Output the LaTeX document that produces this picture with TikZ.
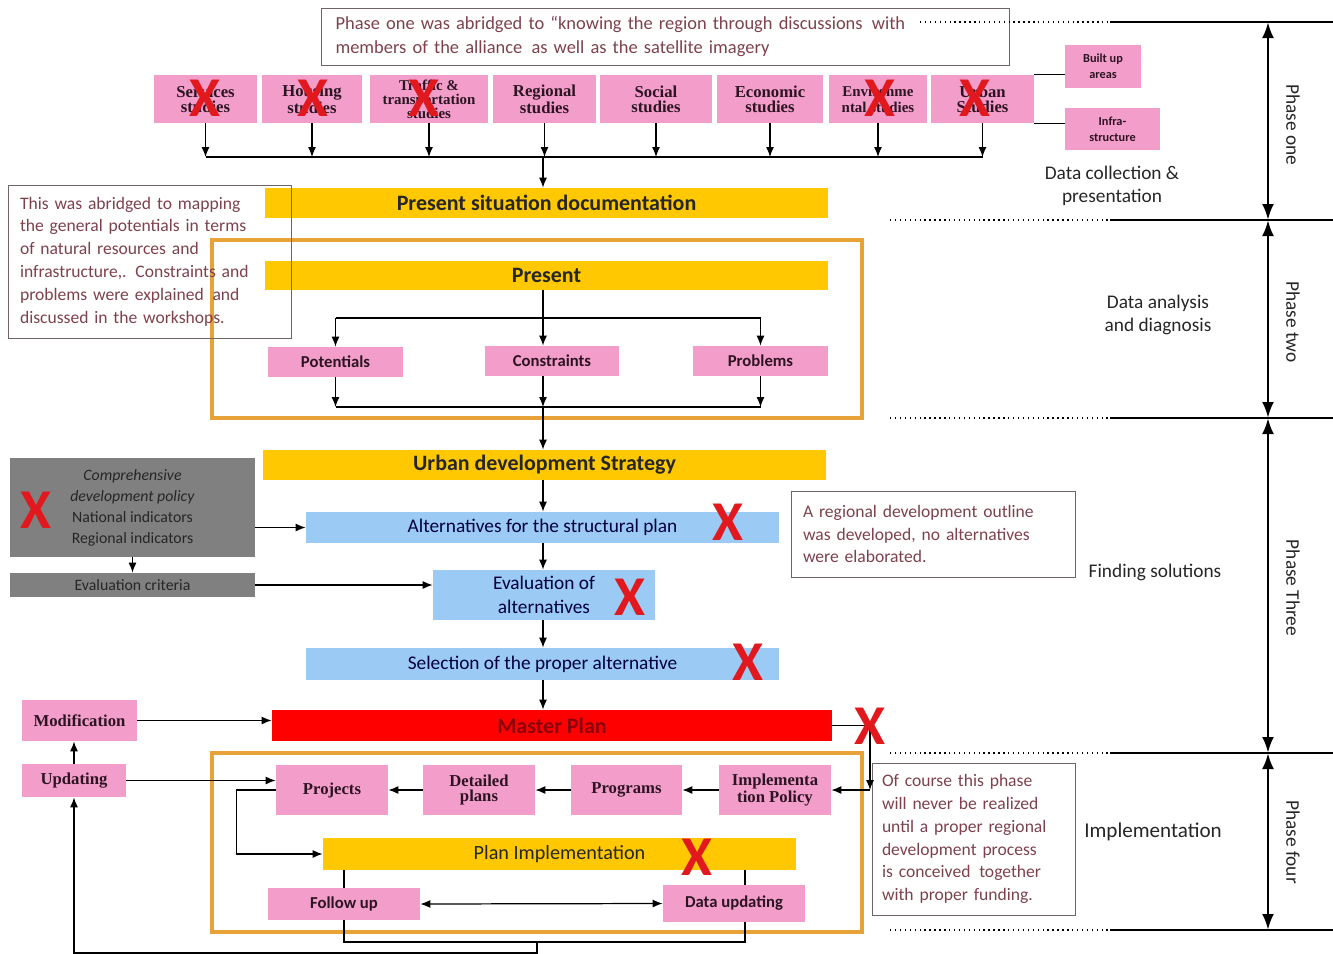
\documentclass[tikz,border=0pt]{standalone}
\usepackage{fontspec}
\setmainfont{Carlito}
\newfontfamily\serifbf{Liberation Serif}
\usetikzlibrary{arrows.meta}
\usetikzlibrary{positioning,calc}
\definecolor{studypink}{RGB}{243,158,202}
\definecolor{baryellow}{RGB}{255,200,0}
\definecolor{barblue}{RGB}{155,203,244}
\definecolor{frameorange}{RGB}{231,163,55}
\definecolor{policygray}{RGB}{128,128,128}
\definecolor{notegray}{RGB}{110,100,100}
\definecolor{notetext}{RGB}{125,65,78}
\definecolor{crossred}{RGB}{225,25,30}
\definecolor{mastertext}{RGB}{140,0,10}
\definecolor{inktext}{RGB}{45,20,35}
\tikzset{
    boxsize/.style 2 args={minimum width=#1*0.02cm, minimum height=#2*0.02cm},
    studybox/.style={
        fill=studypink,
        inner sep=1pt,
        align=center,
        text=inktext,
        font=\serifbf\bfseries\fontsize{9.5}{8.5}\selectfont
    },
    pinkbox/.style={
        fill=studypink,
        inner sep=1pt,
        align=center,
        text=inktext,
        font=\bfseries\fontsize{9.5}{11}\selectfont
    },
    yellowbar/.style={fill=baryellow, inner sep=0pt, text=black!85, font=\bfseries\fontsize{12.5}{14}\selectfont},
    bluebar/.style={fill=barblue, inner sep=0pt, align=center, text=black!75!blue, font=\fontsize{11}{13}\selectfont},
    graybox/.style={fill=policygray, inner sep=0pt, align=center, text=black!85, font=\fontsize{9}{12}\selectfont},
    notebox/.style={draw=notegray, align=left, inner xsep=0.24cm, text=notetext, font=\fontsize{10}{13}\selectfont},
    crossmark/.style={text=crossred, inner sep=0pt, font=\bfseries\fontsize{32}{32}\selectfont},
    sidelabel/.style={align=center, text=black!85, font=\fontsize{11}{13}\selectfont},
    phaselabel/.style={rotate=-90, text=black!85, font=\fontsize{11}{13}\selectfont},
    orangeframe/.style={draw=frameorange, line width=2.3pt},
    arr/.style={-{Latex[length=2mm, width=1.6mm]}, line width=0.7pt},
    link/.style={line width=0.7pt},
    phasearrow/.style={{Latex[length=3.2mm, width=2.4mm]}-{Latex[length=3.2mm, width=2.4mm]}, line width=1.6pt}
}

\begin{document}
\begin{tikzpicture}[x=0.02cm, y=-0.02cm]
    \useasboundingbox (0,0) rectangle (1333,954);

    % Frames
    \draw[orangeframe] (212,240) rectangle (862,418);
    \draw[orangeframe] (212,753) rectangle (862,932);

    % Phase one - studies
    \node[studybox, boxsize={103}{48}] (svc) at (205.5,99) {Services\\studies};
    \node[studybox, boxsize={100}{48}] (hsg) at (312,99) {Housing\\studies};
    \node[studybox, boxsize={118}{48}, font=\serifbf\bfseries\fontsize{8.5}{8}\selectfont] (trf) at (429,99) {Traffic \&\\transportation\\studies};
    \node[studybox, boxsize={103}{48}] (reg) at (544.5,99) {Regional\\studies};
    \node[studybox, boxsize={112}{48}] (soc) at (656,99) {Social\\studies};
    \node[studybox, boxsize={106}{48}] (eco) at (770,99) {Economic\\studies};
    \node[studybox, boxsize={98}{48}, font=\serifbf\bfseries\fontsize{8.5}{9}\selectfont] (env) at (878,99) {Environme\\ntal studies};
    \node[studybox, boxsize={103}{48}] (urb) at (982.5,99) {Urban\\Studies};
    \node[pinkbox, boxsize={76}{43}, font=\bfseries\fontsize{7}{9}\selectfont] (built) at (1103,66.5) {Built up\\areas};
    \node[pinkbox, boxsize={95}{42}, font=\bfseries\fontsize{7}{9}\selectfont] (infra) at (1112.5,129) {Infra-\\structure};
    \coordinate (bus) at (543,157);
    \node[yellowbar, boxsize={563}{30}] (psd) at (546.5,203) {Present situation documentation};

    % Phase two - diagnosis
    \node[yellowbar, boxsize={563}{29}] (present) at (546.5,275.5) {Present};
    \node[pinkbox, boxsize={135}{30}] (pot) at (335.5,362) {Potentials};
    \node[pinkbox, boxsize={134}{30}] (cons) at (552,361) {Constraints};
    \node[pinkbox, boxsize={135}{30}] (prob) at (760.5,361) {Problems};
    \coordinate (split) at (543,318);
    \coordinate (merge) at (543,407);

    % Phase three - solutions
    \node[yellowbar, boxsize={563}{30}] (uds) at (544.5,465) {Urban development Strategy};
    \node[bluebar, boxsize={473}{31}] (alt) at (542.5,527.5) {Alternatives for the structural plan};
    \node[bluebar, boxsize={222}{50}, font=\fontsize{11}{14}\selectfont] (evalalt) at (544,595) {Evaluation of\\alternatives};
    \node[bluebar, boxsize={473}{32}] (sel) at (542.5,664) {Selection of the proper alternative};
    \node[graybox, boxsize={245}{99}] (policy) at (132.5,507.5) {\textit{Comprehensive}\\\textit{development policy}\\National indicators\\Regional indicators};
    \node[graybox, boxsize={245}{24}] (crit) at (132.5,585) {Evaluation criteria};
    \node[fill=red, inner sep=0pt, text=mastertext, boxsize={560}{31}, font=\bfseries\fontsize{12.5}{14}\selectfont] (master) at (552,725.5) {Master Plan};

    % Phase four - implementation
    \node[studybox, boxsize={115}{41}] (mod) at (79.5,720.5) {Modification};
    \node[studybox, boxsize={104}{33}] (upd) at (74,780.5) {Updating};
    \node[studybox, boxsize={112}{50}] (proj) at (332,790) {Projects};
    \node[studybox, boxsize={112}{50}] (det) at (479,790) {Detailed\\plans};
    \node[studybox, boxsize={111}{50}] (prog) at (626.5,790) {Programs};
    \node[studybox, boxsize={112}{50}] (impl) at (775,790) {Implementa\\tion Policy};
    \node[yellowbar, boxsize={473}{32}, font=\fontsize{11.5}{13}\selectfont] (planimp) at (559.5,854) {Plan Implementation};
    \node[pinkbox, boxsize={152}{32}] (fol) at (344,904) {Follow up};
    \node[pinkbox, boxsize={142}{37}] (dat) at (734,903.5) {Data updating};
    \coordinate (turn) at (870,790);
    \coordinate (fb) at (537,942);

    % Notes
    \node[notebox, boxsize={685}{57}, text width=13.2cm, inner xsep=0.28cm, font=\fontsize{10.5}{13.6}\selectfont] (phasenote) at (665.5,36.5) {Phase one was abridged to “knowing the region through discussions\, with\\members of the alliance\, as well as the satellite imagery};
    \node[notebox, boxsize={283}{153}, text width=5.18cm] (mapnote) at (149.5,261.5) {This was abridged to mapping\\the general potentials in terms\\of natural resources and\\infrastructure,. Constraints and\\problems were explained\, and\\discussed in the workshops.};
    \node[notebox, boxsize={284}{86}, text width=5.2cm] (outlinenote) at (933,534) {A regional development outline\\was developed, no alternatives\\were elaborated.};
    \node[notebox, boxsize={203}{152}, text width=3.66cm, inner xsep=0.2cm] (fundnote) at (973.5,839) {Of course this phase\\will never be realized\\until a proper regional\\development process\\is conceived\, together\\with proper funding.};

    % Side labels
    \node[sidelabel] (lab1) at (1112,186) {Data collection \&\\presentation};
    \node[sidelabel] (lab2) at (1158,315) {Data analysis\\and diagnosis};
    \node[sidelabel] (lab3) at (1155,572) {Finding solutions};
    \node[sidelabel, font=\fontsize{12}{14}\selectfont] (lab4) at (1153,832) {Implementation};
    \node[phaselabel] (ph1) at (1293,125) {Phase one};
    \node[phaselabel] (ph2) at (1293,322) {Phase two};
    \node[phaselabel] (ph3) at (1293,588) {Phase Three};
    \node[phaselabel] (ph4) at (1293,842) {Phase four};

    % Phase boundaries
    \foreach \yy/\xx in {22/920, 220/890, 418/890, 753/890, 930/890} {
        \draw[dotted, line width=0.8pt] (\xx,\yy) -- (1110,\yy);
        \draw[line width=1pt] (1110,\yy) -- (1333,\yy);
    }
    \coordinate (b1) at (1268,22);
    \coordinate (b2) at (1268,220);
    \coordinate (b3) at (1268,418);
    \coordinate (b4) at (1268,753);
    \coordinate (b5) at (1268,930);
    \draw[phasearrow] (b1) -- (b2);
    \draw[phasearrow] (b2) -- (b3);
    \draw[phasearrow] (b3) -- (b4);
    \draw[phasearrow] (b4) -- (b5);

    % Edges - phase one
    \foreach \s in {svc,hsg,trf,reg,soc,eco,env,urb}
        \draw[arr] (\s.south) -- (\s.south |- bus);
    \draw[link] (svc.south |- bus) -- (urb.south |- bus);
    \draw[arr] (bus) -- (bus |- psd.north);
    \draw[link] (urb.north east) -- (urb.north east -| built.west);
    \draw[link] (urb.south east) -- (urb.south east -| infra.west);

    % Edges - phase two
    \draw[link] (present.south -| split) -- (split);
    \draw[link] (split -| pot.north) -- (split -| prob.north);
    \draw[arr] (split -| pot.north) -- (pot.north);
    \draw[arr] (split) -- (split |- cons.north);
    \draw[arr] (split -| prob.north) -- (prob.north);
    \draw[arr] (pot.south) -- (merge -| pot.south);
    \draw[arr] (cons.south -| merge) -- (merge);
    \draw[arr] (prob.south) -- (merge -| prob.south);
    \draw[link] (merge -| pot.south) -- (merge -| prob.south);
    \draw[arr] (merge) -- (merge |- uds.north);

    % Edges - phase three
    \draw[arr] (uds.south -| merge) -- (merge |- alt.north);
    \draw[arr] (alt.south -| merge) -- (merge |- evalalt.north);
    \draw[arr] (evalalt.south -| merge) -- (merge |- sel.north);
    \draw[arr] (sel.south -| merge) -- (merge |- master.north);
    \draw[arr] (alt.west -| policy.east) -- (alt.west);
    \draw[arr] (policy.south) -- (crit.north);
    \draw[arr] (crit.east) -- (crit.east -| evalalt.west);

    % Edges - phase four
    \draw[arr] (mod.east) -- (mod.east -| master.west);
    \draw[arr] (upd.north) -- (upd.north |- mod.south);
    \draw[arr] (upd.east) -- (upd.east -| proj.west);
    \draw[arr] (master.east) -| (turn);
    \draw[arr] (turn) -- (impl.east);
    \draw[arr] (impl.west) -- (prog.east);
    \draw[arr] (prog.west) -- (det.east);
    \draw[arr] (det.west) -- (proj.east);
    \draw[arr] (proj.west) -- ++(-39,0) |- (planimp.west);
    \draw[link] (fol.north |- planimp.south) -- (fol.north);
    \draw[link] ([xshift=11*0.02cm]dat.north |- planimp.south) -- ([xshift=11*0.02cm]dat.north);
    \draw[arr, {Latex[length=2mm, width=1.6mm]}-{Latex[length=2mm, width=1.6mm]}] (fol.east) -- (dat.west);
    \draw[link] (fol.south) |- (fb) -| ([xshift=11*0.02cm]dat.south);
    \draw[arr] (fb) -- ++(0,11) -| (upd.south);

    % Crossed out steps
    \node[crossmark] (xsvc) at (205,98) {X};
    \node[crossmark] (xhsg) at (313,98) {X};
    \node[crossmark] (xtrf) at (424,98) {X};
    \node[crossmark] (xenv) at (880,98) {X};
    \node[crossmark] (xurb) at (975,98) {X};
    \node[crossmark] (xpolicy) at (36,510) {X};
    \node[crossmark] (xalt) at (728,522) {X};
    \node[crossmark] (xeval) at (630,597) {X};
    \node[crossmark] (xsel) at (748,662) {X};
    \node[crossmark] (xmaster) at (870,726) {X};
    \node[crossmark] (xplan) at (697,857) {X};
\end{tikzpicture}
\end{document}
